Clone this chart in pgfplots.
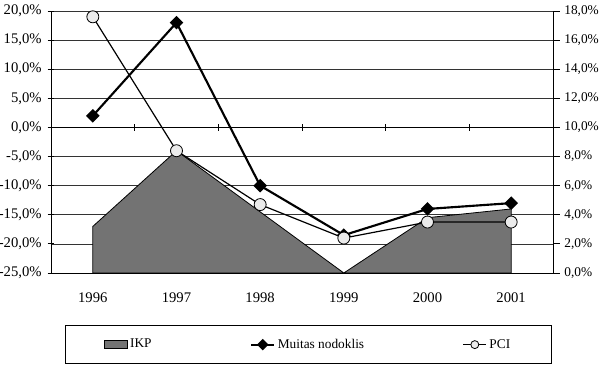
\documentclass[border=0pt]{standalone}
\usepackage{fontspec}
\setmainfont{Liberation Serif}
\usepackage{pgfplots}
\pgfplotsset{compat=1.18}
\begin{document}
\begin{tikzpicture}
\useasboundingbox (-38.25pt,-72.75pt) rectangle (411.75pt,204.75pt);
\pgfplotsset{
  common/.style={
    scale only axis, width=376.5pt, height=196.5pt,
    xmin=1995.5, xmax=2001.5,
    at={(0pt,0pt)}, anchor=south west,
    /pgf/number format/assume math mode=true,
    tick label style={font=\fontsize{11}{13}\selectfont},
    yticklabel={\pgfmathprintnumber[fixed,fixed zerofill,precision=1,use comma]{\tick}\%},
    tick style={black, line width=0.6pt},
    major tick length=5pt,
    axis line style={black, line width=0.6pt},
  }
}
\begin{axis}[common,
  ymin=-25, ymax=20, ytick={-25,-20,...,20},
  axis y line*=left,
  axis x line=middle,
  x axis line style={-, line width=1.4pt},
  xtick={1996.5,1997.5,1998.5,1999.5,2000.5,2001.5},
  xticklabels={},
  tick align=center,
  ymajorgrids, grid style={black!80, line width=0.5pt},
  y tick label style={xshift=-1pt},
]
\addplot[black, line width=1.6pt, mark=square*, mark size=2.8pt, mark options={rotate=45, solid}]
  coordinates {(1996,2) (1997,18) (1998,-10) (1999,-18.5) (2000,-14) (2001,-13)};
\end{axis}
\begin{axis}[common,
  ymin=0, ymax=18, ytick={0,2,...,18},
  axis y line*=right,
  axis x line*=bottom,
  tick align=outside,
  xtick={1996,1997,1998,1999,2000,2001},
  xticklabels={1996,1997,1998,1999,2000,2001},
  x tick style={draw=none},
  x tick label style={yshift=-6pt},
  y tick label style={xshift=0pt, font=\fontsize{10}{12}\selectfont},
  legend columns=3,
  legend style={at={(0.0279,-0.2)}, anchor=north west, draw=black,
    font=\fontsize{10}{12}\selectfont, inner xsep=29pt, inner ysep=8pt,
    /tikz/every even column/.append style={column sep=72pt}},
]
\addplot[fill=black!55, draw=black, line width=0.6pt, area legend]
  coordinates {(1996,3.2) (1997,8.4) (1998,4.2) (1999,0) (2000,3.8) (2001,4.4)} \closedcycle;
\addlegendentry{IKP}
\addlegendimage{black, line width=1.6pt, mark=square*, mark size=2.2pt, mark options={rotate=45, solid}}
\addlegendentry{Muitas nodoklis}
\addplot[black, line width=0.9pt, mark=*, mark size=4.5pt, mark options={fill=black!8, line width=0.6pt}, forget plot]
  coordinates {(1996,17.6) (1997,8.4) (1998,4.7) (1999,2.4) (2000,3.5) (2001,3.5)};
\addlegendimage{black, line width=0.9pt, mark=*, mark size=3pt, mark options={fill=black!8, line width=0.6pt}}
\addlegendentry{PCI}
\end{axis}
\end{tikzpicture}
\end{document}
